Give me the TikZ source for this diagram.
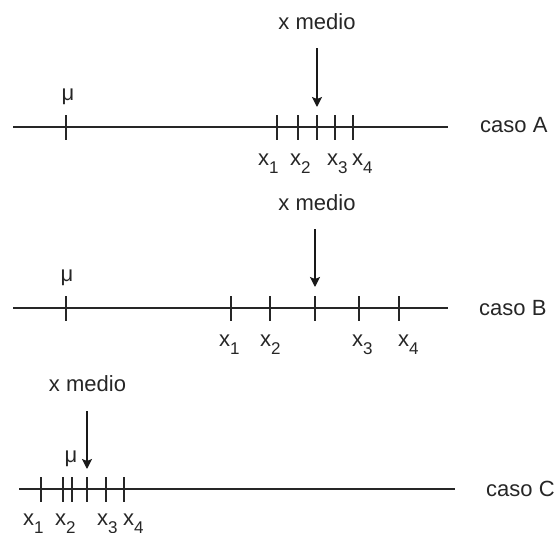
\documentclass[tikz,border=0pt]{standalone}
\usepackage{fontspec}
\setmainfont{Liberation Sans}
\usetikzlibrary{arrows.meta}
\newcommand{\xsub}[1]{x\raisebox{-8pt}{\fontsize{17}{17}\selectfont #1}}
\begin{document}
\begin{tikzpicture}[x=1pt,y=-1pt,
  axis/.style={line width=1.5pt, draw=black!85},
  tickmark/.style={line width=1.5pt, draw=black!85},
  arr/.style={line width=1.5pt, draw=black!90, -{Stealth[length=10pt,width=10pt,inset=2pt]}},
  lbl/.style={font=\fontsize{22}{22}\selectfont, text=black!85, inner sep=0pt},
  sublbl/.style={lbl, anchor=base west},
  casolbl/.style={lbl, anchor=base west},
  medlbl/.style={lbl, anchor=base},
  mulbl/.style={lbl, anchor=base}]
\useasboundingbox (0,0) rectangle (558,533);

% ---------- caso A ----------
\coordinate (aS) at (13,127);
\coordinate (aE) at (448,127);
\draw[axis] (aS) -- (aE);
\foreach \t in {66,277,298,317,335,353}
  \draw[tickmark] (\t,115) -- (\t,140);
\node[mulbl] (muA) at (68,100) {μ};
\node[medlbl] (xmA) at (317,29) {x medio};
\coordinate (aArrS) at (317,48);
\coordinate (aArrE) at (317,107);
\draw[arr] (aArrS) -- (aArrE);
\node[sublbl] (a1) at (258,165) {\xsub{1}};
\node[sublbl] (a2) at (290,165) {\xsub{2}};
\node[sublbl] (a3) at (327,165) {\xsub{3}};
\node[sublbl] (a4) at (352,165) {\xsub{4}};
\node[casolbl] (casoA) at (480,132) {caso A};

% ---------- caso B ----------
\coordinate (bS) at (13,308);
\coordinate (bE) at (448,308);
\draw[axis] (bS) -- (bE);
\foreach \t in {66,231,270,315,359,399}
  \draw[tickmark] (\t,296) -- (\t,321);
\node[mulbl] (muB) at (67,281) {μ};
\node[medlbl] (xmB) at (317,210) {x medio};
\coordinate (bArrS) at (315,229);
\coordinate (bArrE) at (315,287);
\draw[arr] (bArrS) -- (bArrE);
\node[sublbl] (b1) at (219,346) {\xsub{1}};
\node[sublbl] (b2) at (260,346) {\xsub{2}};
\node[sublbl] (b3) at (352,346) {\xsub{3}};
\node[sublbl] (b4) at (398,346) {\xsub{4}};
\node[casolbl] (casoB) at (479,315) {caso B};

% ---------- caso C ----------
\coordinate (cS) at (19,489);
\coordinate (cE) at (455,489);
\draw[axis] (cS) -- (cE);
\foreach \t in {41,63,72,87,106,124}
  \draw[tickmark] (\t,477) -- (\t,502);
\node[mulbl] (muC) at (71,462) {μ};
\node[medlbl] (xmC) at (87.5,391) {x medio};
\coordinate (cArrS) at (87,411);
\coordinate (cArrE) at (87,469);
\draw[arr] (cArrS) -- (cArrE);
\node[sublbl] (c1) at (23,525) {\xsub{1}};
\node[sublbl] (c2) at (55,525) {\xsub{2}};
\node[sublbl] (c3) at (97,525) {\xsub{3}};
\node[sublbl] (c4) at (123,525) {\xsub{4}};
\node[casolbl] (casoC) at (486,496) {caso C};
\end{tikzpicture}
\end{document}
